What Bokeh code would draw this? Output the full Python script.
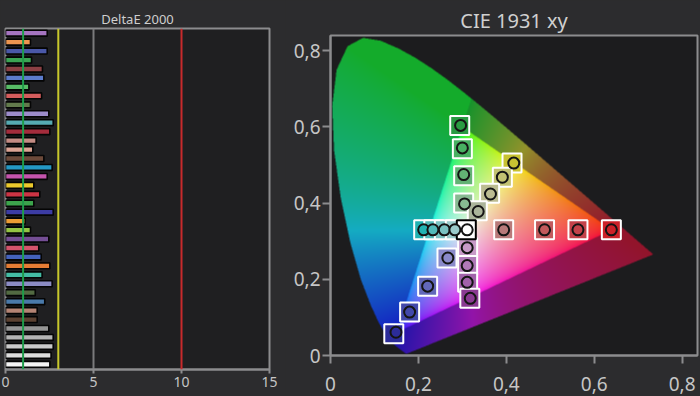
import numpy as np
from bokeh.plotting import figure
from bokeh.layouts import row, column
from bokeh.models import Range1d, FixedTicker, Span, CustomJSTickFormatter
from bokeh.embed import file_html
from bokeh.resources import INLINE

# ---------------- DeltaE 2000 data ----------------
de_values = [2.37, 1.42, 2.37, 1.48, 2.10, 2.18, 1.33, 2.05, 1.42, 2.46,
             2.71, 2.52, 1.74, 1.55, 2.18, 2.65, 2.37, 1.61, 1.95, 1.61,
             2.71, 1.12, 1.42, 2.46, 1.89, 2.03, 2.52, 2.08, 2.65, 1.69,
             2.23, 1.80, 1.80, 2.46, 2.71, 2.71, 2.59, 2.52]
de_colors = ["#a574c0", "#ec9550", "#4a58a8", "#3ca454", "#8c4044", "#5c7ccc",
             "#58bc66", "#d45c5c", "#627a4c", "#9c8cca", "#56aab2", "#a42c3c",
             "#c48c84", "#dca494", "#6c4a3a", "#2498c4", "#c454ac", "#ecca2c",
             "#cc3444", "#3ca44c", "#3c3ca4", "#ec9c34", "#94c444", "#744e94",
             "#d4546c", "#4462bc", "#e47c34", "#44bca4", "#8c8cc4", "#526a42",
             "#4a7aaa", "#b48474", "#5c4232", "#949494", "#b4b4b4", "#cacaca",
             "#dedede", "#f4f4f4"]
de_limits = [1, 3, 10]
de_limit_colors = ["#1e9c4a", "#c8c82c", "#c82a2c"]
de_ticks = [0, 5, 10, 15]

# ---------------- CIE 1931 data ----------------
locus_x = [0.1741, 0.1740, 0.1738, 0.1736, 0.1733, 0.1730, 0.1726, 0.1721, 0.1714,
           0.1703, 0.1689, 0.1669, 0.1644, 0.1611, 0.1566, 0.1510, 0.1440, 0.1355,
           0.1241, 0.1096, 0.0913, 0.0687, 0.0454, 0.0235, 0.0082, 0.0039, 0.0139,
           0.0389, 0.0743, 0.1142, 0.1547, 0.1929, 0.2296, 0.2658, 0.3016, 0.3373,
           0.3731, 0.4087, 0.4441, 0.4788, 0.5125, 0.5448, 0.5752, 0.6029, 0.6270,
           0.6482, 0.6658, 0.6801, 0.6915, 0.7006, 0.7079, 0.7140, 0.7190, 0.7230,
           0.7260, 0.7283, 0.7300, 0.7311, 0.7320, 0.7327, 0.7334, 0.7347]
locus_y = [0.0050, 0.0050, 0.0049, 0.0049, 0.0048, 0.0048, 0.0048, 0.0048, 0.0051,
           0.0058, 0.0069, 0.0086, 0.0109, 0.0138, 0.0177, 0.0227, 0.0297, 0.0399,
           0.0578, 0.0868, 0.1327, 0.2007, 0.2950, 0.4127, 0.5384, 0.6548, 0.7502,
           0.8120, 0.8338, 0.8262, 0.8059, 0.7816, 0.7543, 0.7243, 0.6923, 0.6589,
           0.6245, 0.5896, 0.5547, 0.5202, 0.4866, 0.4544, 0.4242, 0.3965, 0.3725,
           0.3514, 0.3340, 0.3197, 0.3083, 0.2993, 0.2920, 0.2859, 0.2809, 0.2770,
           0.2740, 0.2717, 0.2700, 0.2689, 0.2680, 0.2673, 0.2666, 0.2653]

target_x = [0.294, 0.300, 0.303, 0.303,
            0.413, 0.391, 0.362, 0.334,
            0.394, 0.487, 0.563, 0.639,
            0.312, 0.312, 0.312, 0.317,
            0.144, 0.180, 0.221, 0.265,
            0.212, 0.235, 0.259, 0.284]
target_y = [0.604, 0.543, 0.472, 0.400,
            0.505, 0.468, 0.426, 0.380,
            0.330, 0.330, 0.330, 0.330,
            0.283, 0.236, 0.192, 0.150,
            0.057, 0.114, 0.182, 0.256,
            0.330, 0.330, 0.330, 0.330]
meas_x = [0.296, 0.300, 0.303, 0.305,
          0.417, 0.391, 0.364, 0.336,
          0.394, 0.487, 0.563, 0.639,
          0.311, 0.311, 0.311, 0.318,
          0.149, 0.180, 0.221, 0.267,
          0.212, 0.233, 0.259, 0.283]
meas_y = [0.604, 0.545, 0.475, 0.398,
          0.505, 0.468, 0.424, 0.378,
          0.330, 0.330, 0.330, 0.330,
          0.283, 0.236, 0.192, 0.150,
          0.061, 0.114, 0.182, 0.256,
          0.330, 0.330, 0.330, 0.330]
point_colors = ["#2a9a42", "#48b062", "#62b274", "#88ba92",
                "#c8c232", "#c2c272", "#bcbc92", "#aab49a",
                "#b87a7a", "#c25a5c", "#c4424a", "#cc2228",
                "#c89ac8", "#b07ab8", "#a262aa", "#8a3a92",
                "#2c2c9a", "#4248aa", "#6268ba", "#8a8aca",
                "#22b2b2", "#52baba", "#7ac2c2", "#9acaca"]
white_x, white_y = [0.309], [0.330]
white_mx, white_my = [0.311], [0.330]
cie_ticks = [0, 0.2, 0.4, 0.6, 0.8]

PAGE_BG = "#2c2c2e"
FRAME = "#8c8c8e"
LABEL = "#c6c6c6"
FONT = "Noto Sans"

# ---------------- left: DeltaE bars ----------------
n = len(de_values)
p1 = figure(width=285, height=396, x_range=Range1d(0, 15),
            y_range=Range1d(n - 0.42, -0.525),
            output_backend="svg", toolbar_location=None,
            min_border_left=5, min_border_right=16, min_border_top=28, min_border_bottom=27,
            background_fill_color="#1f1f21", border_fill_color=PAGE_BG,
            outline_line_color=FRAME, outline_line_width=2)
p1.title.text = "DeltaE 2000"
p1.title.align = "center"
p1.title.text_color = "#cfcfcf"
p1.title.text_font = FONT
p1.title.text_font_size = "13px"
p1.title.text_font_style = "normal"
p1.title.standoff = 2
p1.yaxis.visible = False
p1.ygrid.visible = False
p1.xgrid.ticker = FixedTicker(ticks=[5])
p1.xgrid.grid_line_color = "#7a7a7c"
p1.xgrid.grid_line_width = 2
p1.xaxis.ticker = FixedTicker(ticks=de_ticks)
p1.xaxis.axis_line_color = FRAME
p1.xaxis.axis_line_width = 2
p1.xaxis.major_tick_line_color = FRAME
p1.xaxis.major_tick_line_width = 2
p1.xaxis.major_tick_out = 4
p1.xaxis.major_tick_in = 0
p1.xaxis.minor_tick_line_color = None
p1.xaxis.major_label_text_color = LABEL
p1.xaxis.major_label_text_font = FONT
p1.xaxis.major_label_text_font_size = "14px"
p1.xaxis.major_label_standoff = 3

p1.hbar(y=list(range(n)), left=0, right=de_values, height=0.66,
        fill_color=de_colors, line_color="#050505", line_width=1.6)
for loc, col in zip(de_limits, de_limit_colors):
    p1.add_layout(Span(location=loc, dimension="height", line_color=col, line_width=2))

# ---------------- right: CIE 1931 xy ----------------
X0, X1, Y0, Y1 = 0.0, 0.835, 0.0, 0.84
p2 = figure(width=415, height=396, x_range=Range1d(X0, X1), y_range=Range1d(Y0, Y1),
            output_backend="svg", toolbar_location=None,
            min_border_left=45, min_border_right=3, min_border_top=35, min_border_bottom=41,
            background_fill_color="#1c1c1e", border_fill_color=PAGE_BG,
            outline_line_color=FRAME, outline_line_width=2)
p2.title.text = "CIE 1931 xy"
p2.title.align = "center"
p2.title.text_color = "#d0d0d0"
p2.title.text_font = FONT
p2.title.text_font_size = "20px"
p2.title.text_font_style = "normal"
p2.title.standoff = 3
p2.grid.visible = False
fmt = CustomJSTickFormatter(code="return tick == 0 ? '0' : tick.toFixed(1).replace('.', ',');")
for ax in (p2.xaxis[0], p2.yaxis[0]):
    ax.ticker = FixedTicker(ticks=cie_ticks)
    ax.formatter = fmt
    ax.axis_line_color = FRAME
    ax.axis_line_width = 2
    ax.major_tick_line_color = FRAME
    ax.major_tick_line_width = 2
    ax.major_tick_out = 8
    ax.major_tick_in = 0
    ax.minor_tick_line_color = None
    ax.major_label_text_color = LABEL
    ax.major_label_text_font = FONT
    ax.major_label_text_font_size = "19px"
p2.xaxis.major_label_standoff = 13
p2.yaxis.major_label_standoff = 2

# chromaticity background image (computed from locus + sRGB conversion)
W_PX, H_PX, SS = 367, 320, 2
nx, ny = W_PX * SS, H_PX * SS
xs = (np.arange(nx) + 0.5) / nx * (X1 - X0) + X0
ys = (np.arange(ny) + 0.5) / ny * (Y1 - Y0) + Y0
XX, YY = np.meshgrid(xs, ys)
lx = np.array(locus_x + [locus_x[0]])
ly = np.array(locus_y + [locus_y[0]])
inside = np.zeros(XX.shape, dtype=bool)
for i in range(len(lx) - 1):
    xa, ya, xb, yb = lx[i], ly[i], lx[i + 1], ly[i + 1]
    if ya == yb:
        continue
    crosses = (ya > YY) != (yb > YY)
    xint = xa + (YY - ya) * (xb - xa) / (yb - ya)
    inside ^= crosses & (XX < xint)
Xc = XX / YY
Zc = (1 - XX - YY) / YY
r = 3.2406 * Xc - 1.5372 - 0.4986 * Zc
g = -0.9689 * Xc + 1.8758 + 0.0415 * Zc
b = 0.0557 * Xc - 0.2040 + 1.0570 * Zc
rgb = np.stack([r, g, b], axis=-1)
outside = rgb.min(axis=-1) < 0
rgb = np.clip(rgb, 0, None)
rgb = rgb / np.maximum(rgb.max(axis=-1, keepdims=True), 1e-9)
inner = 0.02 + 0.93 * rgb ** (1 / 2.2)
fac = np.where(r < 0, 0.66, 0.55)[..., None]
lift = np.array([0.08, 0.08, 0.17])
outer = lift + 0.9 * fac * rgb ** (1 / 1.35)
rgb = np.where(outside[..., None], outer, inner)
alpha = inside.astype(float)
prem = rgb * alpha[..., None]
prem = prem.reshape(H_PX, SS, W_PX, SS, 3).mean(axis=(1, 3))
asum = alpha.reshape(H_PX, SS, W_PX, SS).mean(axis=(1, 3))
col = prem / np.maximum(asum[..., None], 1e-9)
img = np.zeros((H_PX, W_PX, 4), dtype=np.uint8)
img[..., :3] = np.clip(col * 255, 0, 255).astype(np.uint8)
img[..., 3] = np.clip(asum * 255, 0, 255).astype(np.uint8)
img32 = img.view(dtype=np.uint32).reshape((H_PX, W_PX))
p2.image_rgba(image=[img32], x=X0, y=Y0, dw=X1 - X0, dh=Y1 - Y0)

# targets (squares) and measurements (circles)
p2.scatter(target_x, target_y, marker="square", size=19, fill_color=point_colors,
           line_color="#ffffff", line_width=2)
p2.scatter(white_x, white_y, marker="square", size=19, fill_color="#ffffff",
           line_color="#000000", line_width=2)
p2.scatter(meas_x, meas_y, marker="circle", size=11, fill_color=point_colors,
           line_color="#141414", line_width=2)
p2.scatter(white_mx, white_my, marker="circle", size=11, fill_color="#ffffff",
           line_color="#141414", line_width=2)

layout = row(column(p1), column(p2), margin=(0, 0, 0, 0), styles={"background-color": PAGE_BG})
open("out.html", "w").write(file_html(layout, INLINE))
